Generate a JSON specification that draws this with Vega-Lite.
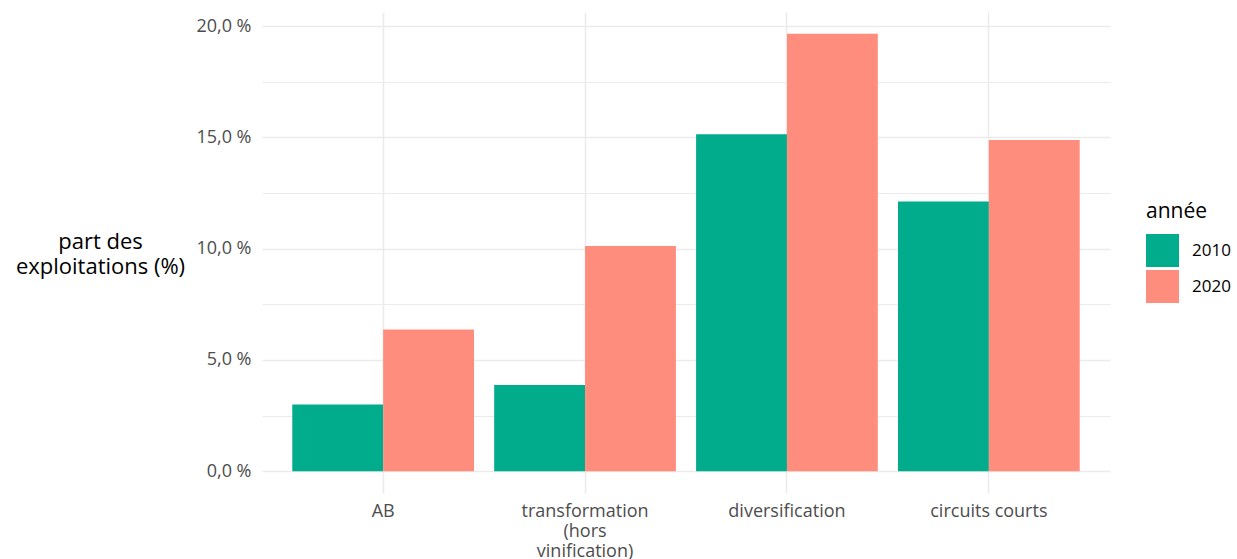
{
  "$schema": "https://vega.github.io/schema/vega-lite/v6.json",
  "width": 848,
  "height": 481,
  "autosize": {"type": "none"},
  "padding": {"left": 262, "top": 12, "right": 127, "bottom": 66},
  "background": "white",
  "config": {"view": {"stroke": null}, "font": "Open Sans"},
  "data": {
    "values": [
      {"categorie": "AB", "annee": "2010", "part": 3.00},
      {"categorie": "AB", "annee": "2020", "part": 6.37},
      {"categorie": "transformation (hors vinification)", "annee": "2010", "part": 3.87},
      {"categorie": "transformation (hors vinification)", "annee": "2020", "part": 10.12},
      {"categorie": "diversification", "annee": "2010", "part": 15.15},
      {"categorie": "diversification", "annee": "2020", "part": 19.66},
      {"categorie": "circuits courts", "annee": "2010", "part": 12.12},
      {"categorie": "circuits courts", "annee": "2020", "part": 14.89}
    ]
  },
  "mark": {"type": "bar"},
  "encoding": {
    "x": {
      "field": "categorie",
      "type": "nominal",
      "sort": ["AB", "transformation (hors vinification)", "diversification", "circuits courts"],
      "scale": {"paddingInner": 0.1, "paddingOuter": 0.15},
      "axis": {
        "title": null,
        "domain": false,
        "ticks": false,
        "grid": true,
        "gridColor": "#EBEBEB",
        "gridWidth": 1.5,
        "labelAngle": 0,
        "labelFontSize": 18,
        "labelColor": "#4D4D4D",
        "labelPadding": 9,
        "labelLineHeight": 20,
        "labelBaseline": "top",
        "labelExpr": "datum.label == 'transformation (hors vinification)' ? ['transformation', '(hors', 'vinification)'] : datum.label"
      }
    },
    "xOffset": {"field": "annee", "type": "nominal", "scale": {"paddingInner": 0, "paddingOuter": 0}},
    "y": {
      "field": "part",
      "type": "quantitative",
      "scale": {"domain": [-0.98, 20.64], "nice": false, "zero": false},
      "axis": {
        "values": [0, 2.5, 5, 7.5, 10, 12.5, 15, 17.5, 20],
        "domain": false,
        "ticks": false,
        "grid": true,
        "gridColor": "#EBEBEB",
        "gridWidth": {"condition": {"test": "datum.value % 5 === 0", "value": 1.5}, "value": 1},
        "labelFontSize": 18,
        "labelColor": "#4D4D4D",
        "labelPadding": 11,
        "labelExpr": "datum.value % 5 === 0 ? replace(format(datum.value, '.1f'), '.', ',') + ' %' : ''",
        "title": ["part des", "exploitations (%)"],
        "titleAngle": 0,
        "titleFontSize": 22,
        "titleFontWeight": "normal",
        "titleColor": "black",
        "titleAlign": "center",
        "titleBaseline": "alphabetic",
        "titleLineHeight": 25,
        "titleX": -162,
        "titleY": 236
      }
    },
    "y2": {"datum": 0},
    "color": {
      "field": "annee",
      "type": "nominal",
      "scale": {"domain": ["2010", "2020"], "range": ["#00AC8C", "#FF8D7E"]},
      "legend": {
        "orient": "none",
        "legendX": 884,
        "legendY": 189,
        "title": "année",
        "titleFontSize": 21,
        "titleFontWeight": "normal",
        "titleColor": "black",
        "titlePadding": 12,
        "symbolType": "square",
        "symbolSize": 1089,
        "symbolStrokeWidth": 0,
        "symbolOpacity": 1,
        "labelFontSize": 17,
        "labelColor": "black",
        "labelOffset": 13,
        "rowPadding": 3,
        "padding": 0
      }
    }
  }
}
